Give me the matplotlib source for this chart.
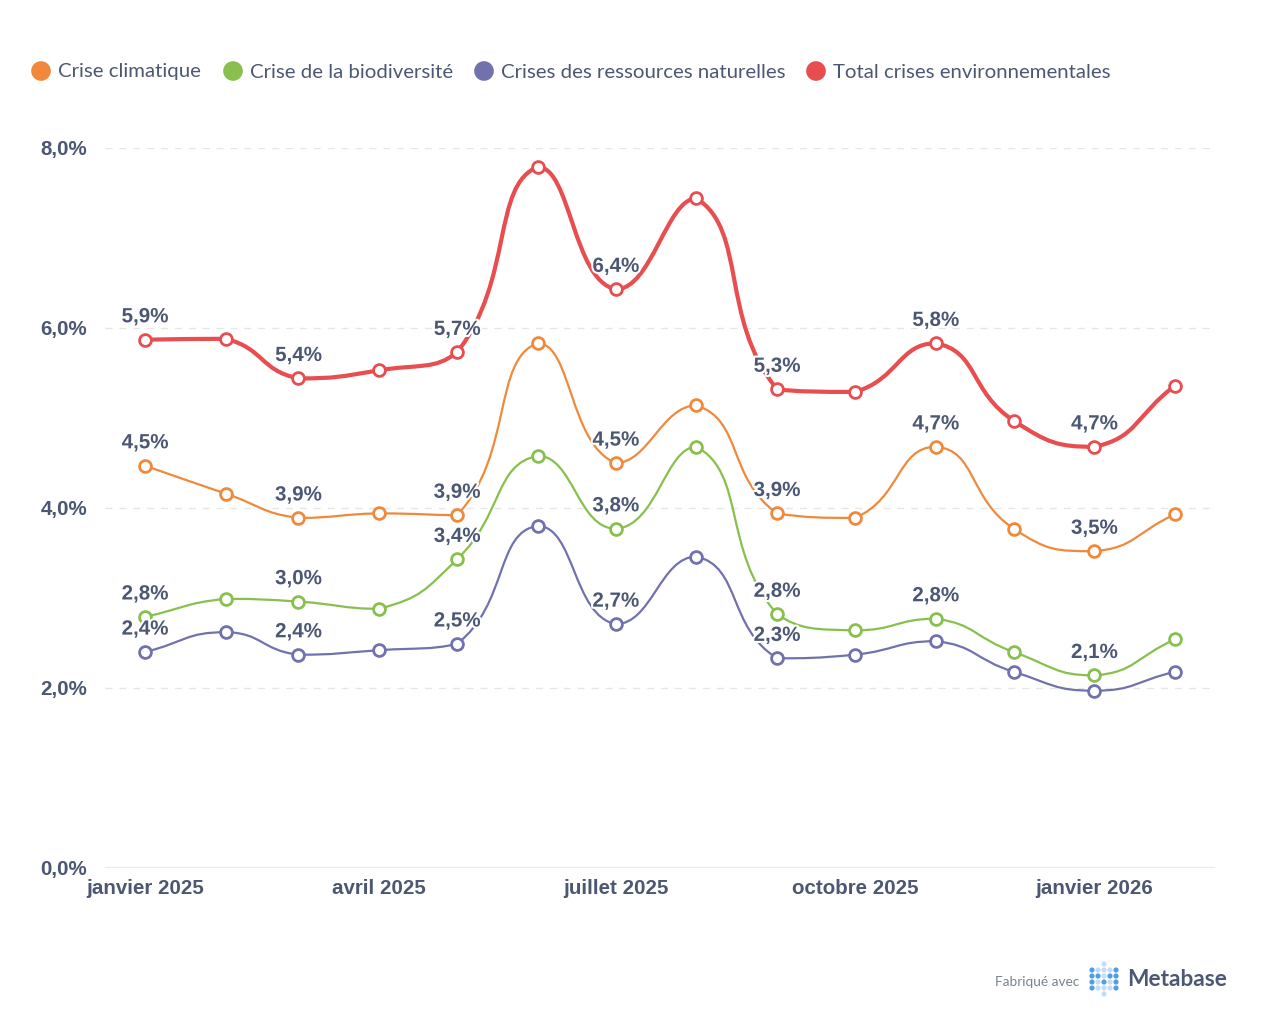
import numpy as np
import matplotlib
matplotlib.use("Agg")
import matplotlib.pyplot as plt
from matplotlib.path import Path
from matplotlib.patches import PathPatch
import matplotlib.patheffects as pe

# ---------------- data ----------------
months = ["2025-01-01", "2025-02-01", "2025-03-01", "2025-04-01", "2025-05-01", "2025-06-01",
          "2025-07-01", "2025-08-01", "2025-09-01", "2025-10-01", "2025-11-01", "2025-12-01",
          "2026-01-01", "2026-02-01"]
tick_dates = ["2025-01-01", "2025-04-01", "2025-07-01", "2025-10-01", "2026-01-01"]
tick_labels = ["janvier 2025", "avril 2025", "juillet 2025", "octobre 2025", "janvier 2026"]

climat = [4.47, 4.16, 3.89, 3.94, 3.92, 5.83, 4.50, 5.14, 3.94, 3.89, 4.68, 3.77, 3.52, 3.93]
biodiv = [2.79, 2.99, 2.96, 2.88, 3.43, 4.58, 3.77, 4.68, 2.82, 2.64, 2.77, 2.40, 2.14, 2.54]
ressources = [2.40, 2.62, 2.37, 2.42, 2.49, 3.80, 2.71, 3.46, 2.33, 2.37, 2.52, 2.18, 1.97, 2.18]
total = [5.87, 5.88, 5.44, 5.53, 5.73, 7.79, 6.43, 7.44, 5.32, 5.29, 5.83, 4.97, 4.68, 5.36]

series_names = ["Crise climatique", "Crise de la biodiversité",
                "Crises des ressources naturelles", "Total crises environnementales"]
series_values = [climat, biodiv, ressources, total]
series_colors = ["#F0893B", "#88BF4D", "#7172AD", "#E84D4F"]
series_lw = [1.6, 1.6, 1.6, 3.0]
# indices of points carrying a value label, per series
label_idx = [[0, 2, 4, 6, 8, 10, 12],
             [0, 2, 4, 6, 8, 10, 12],
             [0, 2, 4, 6, 8],
             [0, 2, 4, 6, 8, 10, 12]]

yticks = [0, 2, 4, 6, 8]

TEXT = "#4C5773"
BOLD = ["Liberation Sans", "DejaVu Sans"]
LATO = ["Lato", "DejaVu Sans"]
BOLD_SIZE = 14.8

# day offsets from the first month (time scale)
d0 = np.datetime64(months[0])
xs = np.array([(np.datetime64(m) - d0).astype(int) for m in months], float)
xt = np.array([(np.datetime64(m) - d0).astype(int) for m in tick_dates], float)

W, H = 1269, 1024
fig = plt.figure(figsize=(W / 100, H / 100), dpi=100)
L, R, B, T = 105, 1215, 868, 148
ax = fig.add_axes([L / W, 1 - B / H, (R - L) / W, (B - T) / H])
span = xs[-1] - xs[0]
pad_days = span * 40.0 / 1030.0
ax.set_xlim(xs[0] - pad_days, xs[-1] + pad_days)
ax.set_ylim(0, 8)
sx = (R - L) / (span + 2 * pad_days)   # px per day
sy = (B - T) / 8.0                      # px per percent


def smooth_path(xs, ys, smooth=0.5):
    X = np.asarray(xs, float) * sx
    Y = np.asarray(ys, float) * sy
    m = len(X)
    cp_in = []
    cp_out = []
    for i in range(m):
        px, py = (X[i - 1], Y[i - 1]) if i > 0 else (X[i], Y[i])
        nx, ny = (X[i + 1], Y[i + 1]) if i < m - 1 else (X[i], Y[i])
        vx, vy = nx - px, ny - py
        l0 = np.hypot(X[i] - px, Y[i] - py)
        l1 = np.hypot(nx - X[i], ny - Y[i])
        r = l1 / (l0 + l1) if (l0 + l1) > 0 else 0.5
        c1x = X[i] + vx * smooth * r
        c1y = Y[i] + vy * smooth * r
        c1x = min(max(c1x, min(nx, X[i])), max(nx, X[i]))
        c1y = min(max(c1y, min(ny, Y[i])), max(ny, Y[i]))
        c0x = X[i] - vx * smooth * (1 - r)
        c0y = Y[i] - vy * smooth * (1 - r)
        c0x = min(max(c0x, min(px, X[i])), max(px, X[i]))
        c0y = min(max(c0y, min(py, Y[i])), max(py, Y[i]))
        cp_in.append((c0x / sx, c0y / sy))
        cp_out.append((c1x / sx, c1y / sy))
    verts = [(xs[0], ys[0])]
    codes = [Path.MOVETO]
    for i in range(m - 1):
        verts += [cp_out[i], cp_in[i + 1], (xs[i + 1], ys[i + 1])]
        codes += [Path.CURVE4] * 3
    return Path(verts, codes)


# grid
for yv in yticks:
    if yv == 0:
        ax.axhline(yv, color="#EBEBEB", lw=1.6, zorder=0)
    else:
        ax.axhline(yv, color="#E6E6E6", lw=1.0, ls=(0, (5, 5)), zorder=0)

for k, (vals, col, lw) in enumerate(zip(series_values, series_colors, series_lw)):
    p = smooth_path(xs, vals)
    ax.add_patch(PathPatch(p, fill=False, edgecolor=col, lw=lw, zorder=2 + k,
                           capstyle="round", joinstyle="round"))
    ax.plot(xs, vals, ls="none", marker="o", ms=8.5, mfc="white", mec=col,
            mew=2.0, zorder=3 + k)

for k, vals in enumerate(series_values):
    for i in label_idx[k]:
        txt = f"{vals[i]:.1f}%".replace(".", ",")
        ax.annotate(txt, (xs[i], vals[i]), xytext=(0, 16.5), textcoords="offset points",
                    ha="center", va="center", fontsize=BOLD_SIZE, fontweight="bold",
                    family=BOLD, color=TEXT, zorder=20,
                    path_effects=[pe.withStroke(linewidth=3, foreground="white")])

ax.set_yticks(yticks)
ax.set_yticklabels([f"{v:.1f}%".replace(".", ",") for v in yticks])
ax.set_xticks(xt)
ax.set_xticklabels(tick_labels)
for lab in ax.get_xticklabels() + ax.get_yticklabels():
    lab.set_fontfamily(BOLD)
    lab.set_fontweight("bold")
    lab.set_fontsize(BOLD_SIZE)
    lab.set_color(TEXT)
ax.tick_params(axis="both", length=0)
ax.tick_params(axis="y", pad=13)
ax.tick_params(axis="x", pad=8)
for s in ax.spines.values():
    s.set_visible(False)

# overlay for legend and footer, in pixel coordinates
ov = fig.add_axes([0, 0, 1, 1], zorder=-1)
ov.set_xlim(0, W)
ov.set_ylim(H, 0)
ov.axis("off")
leg_dot_x = [41, 233, 484, 816]
for name, col, dx in zip(series_names, series_colors, leg_dot_x):
    ov.scatter([dx], [71], s=200, color=col, edgecolors="none")
    ov.text(dx + 17, 72, name, fontsize=14.7, family=LATO, color=TEXT,
            ha="left", va="center")

ov.text(1079, 982, "Fabriqué avec", fontsize=9.8, family=LATO, color="#74838F",
        ha="right", va="center")
ov.text(1127, 980, "Metabase", fontsize=16.3, family=LATO, fontweight="bold",
        color=TEXT, ha="left", va="center")
logo_cols = [1092, 1098, 1104, 1110, 1116]
logo_rows = [970, 976, 982, 988]
pattern = ["DLLLD", "DDLDD", "DLDLD", "DLLLD"]
for r, yy in enumerate(logo_rows):
    for c, xx in enumerate(logo_cols):
        colr = "#509EE3" if pattern[r][c] == "D" else "#C5DDF4"
        ov.scatter([xx], [yy], s=14, color=colr, edgecolors="none")
ov.scatter([1104, 1104], [964, 994], s=14, color="#C5DDF4", edgecolors="none")

fig.savefig("out.png", dpi=100, facecolor="white")
